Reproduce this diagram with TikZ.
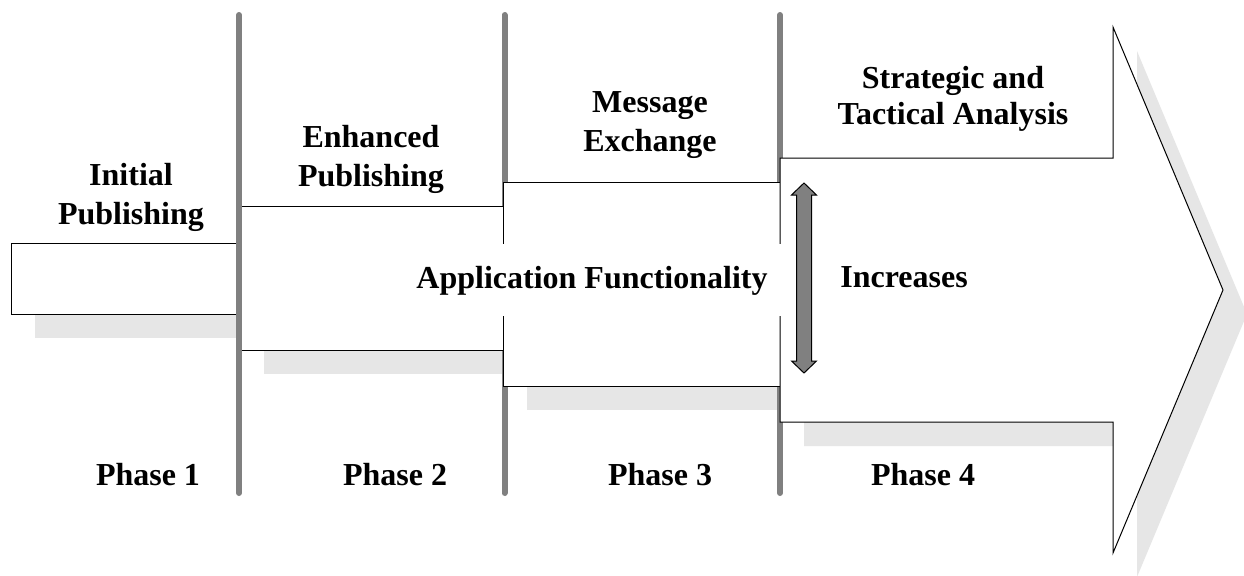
\documentclass[tikz,border=0pt]{standalone}
\usepackage{fontspec}
\setmainfont{Liberation Serif}
\definecolor{shade}{HTML}{E6E6E6}
\definecolor{rulegray}{HTML}{808080}
\begin{document}
\begin{tikzpicture}[x=0.5pt,y=-0.5pt,
  outline/.style={draw=black,line width=0.5pt,fill=white},
  shadowfill/.style={fill=shade},
  separator/.style={draw=rulegray,line width=3pt,line cap=round},
  lbl/.style={font=\fontsize{16}{19.5}\selectfont\bfseries,align=center,inner sep=0pt},
]
\clip (0,0) rectangle (1244,575);
\fill[white] (0,0) rectangle (1244,575);

% drop shadow of the stepped arrow
\begin{scope}[shift={(24,24)}]
  \fill[shadowfill] (11,243) rectangle (240,314);
  \fill[shadowfill] (240,206) rectangle (503,350);
  \fill[shadowfill] (503,182) rectangle (780,386);
  \fill[shadowfill] (780,158) -- (1113,158) -- (1113,27) -- (1223,290)
        -- (1113,553) -- (1113,422) -- (780,422) -- cycle;
\end{scope}

% phase separators lying behind the later steps
\draw[separator] (504.5,15) -- (504.5,493);
\draw[separator] (780,15) -- (780,493);

% the four steps of the arrow
\draw[outline] (11,243) rectangle (240,314);
\draw[outline] (240,206) rectangle (503,350);
\draw[outline] (503,182) rectangle (780,386);
\draw[outline] (780,158) -- (1113,158) -- (1113,27) -- (1223,290)
      -- (1113,553) -- (1113,422) -- (780,422) -- cycle;

% first separator on top
\draw[separator] (239,15) -- (239,493);

% double-headed arrow
\draw[fill=rulegray,draw=black,line width=0.5pt]
  (804,183) -- (816.5,195) -- (811.5,195) -- (811.5,361) -- (816.5,361)
  -- (804,373) -- (791.5,361) -- (796.5,361) -- (796.5,195) -- (791.5,195) -- cycle;

% labels
\node[lbl] (initial) at (131,197) {Initial\\Publishing};
\node[lbl] (enhanced) at (371,159) {Enhanced\\Publishing};
\node[lbl] (message) at (650,125) {Message\\Exchange};
\node[lbl,font=\fontsize{16}{18}\selectfont\bfseries] (strategic) at (953,99) {Strategic and\\Tactical Analysis};
\node[lbl,fill=white,minimum width=192pt,minimum height=36pt,anchor=base] (appfunc) at (592,288) {Application Functionality};
\node[lbl,anchor=base] (increases) at (904,287) {Increases};

\node[lbl,anchor=base] (ph1) at (148,485) {Phase 1};
\node[lbl,anchor=base] (ph2) at (395,485) {Phase 2};
\node[lbl,anchor=base] (ph3) at (660,485) {Phase 3};
\node[lbl,anchor=base] (ph4) at (923,485) {Phase 4};
\end{tikzpicture}
\end{document}
